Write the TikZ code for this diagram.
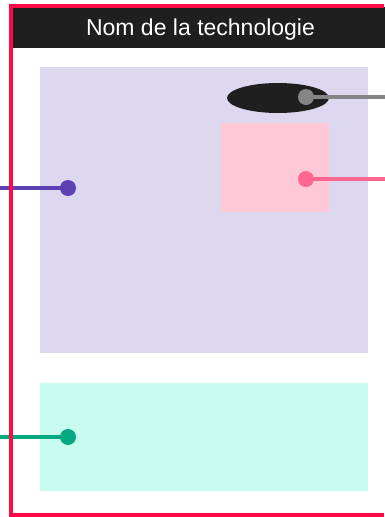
\documentclass[tikz,border=0pt]{standalone}
\usepackage{fontspec}
\setmainfont{Liberation Sans}
\usetikzlibrary{positioning}
\definecolor{framered}{HTML}{FF0A47}
\definecolor{headerdark}{HTML}{1F1F1F}
\definecolor{techlavender}{HTML}{DDD7F0}
\definecolor{techpink}{HTML}{FFC8D7}
\definecolor{techmint}{HTML}{C7FBEF}
\definecolor{dotpurple}{HTML}{5C40B4}
\definecolor{dotpink}{HTML}{FF6690}
\definecolor{dotgreen}{HTML}{06A882}
\definecolor{dotgray}{HTML}{858585}

\begin{document}
\begin{tikzpicture}[x=1pt,y=-1pt,font=\fontsize{23}{27}\selectfont,
  tipdot/.style={circle,inner sep=0pt,minimum size=16pt,fill=#1},
  leadline/.style={line width=3.5pt,#1}]
\useasboundingbox (0,0) rectangle (385,517);
% zones
\fill[techlavender] (40,67) rectangle (368,353);
\fill[techmint] (40,383) rectangle (368,491);
\fill[techpink] (221,123) rectangle (329,212);
\fill[headerdark] (278,98) ellipse [x radius=51, y radius=15];
% header
\fill[headerdark] (12,7) rectangle (385,48);
\node[anchor=base,text=white,inner sep=0pt] (title) at (200.5,35) {Nom de la technologie};
% leaders
\node[tipdot=dotpurple] (purpledot) at (68,188) {};
\coordinate (purpleend) at (0,188);
\draw[leadline=dotpurple] (purpleend) -- (purpledot.center);
\node[tipdot=dotgreen] (greendot) at (68,437) {};
\coordinate (greenend) at (0,437);
\draw[leadline=dotgreen] (greenend) -- (greendot.center);
\node[tipdot=dotgray] (graydot) at (306,97) {};
\coordinate (grayend) at (385,97);
\draw[leadline=dotgray] (graydot.center) -- (grayend);
\node[tipdot=dotpink] (pinkdot) at (306,179) {};
\coordinate (pinkend) at (385,179);
\draw[leadline=dotpink] (pinkdot.center) -- (pinkend);
% frame, open to the right
\draw[framered,line width=4pt] (10.5,5.5) -- (10.5,514.5);
\draw[framered,line width=4pt] (8.5,5.5) -- (384,5.5);
\draw[framered,line width=4pt] (8.5,514.5) -- (384,514.5);
\end{tikzpicture}
\end{document}
